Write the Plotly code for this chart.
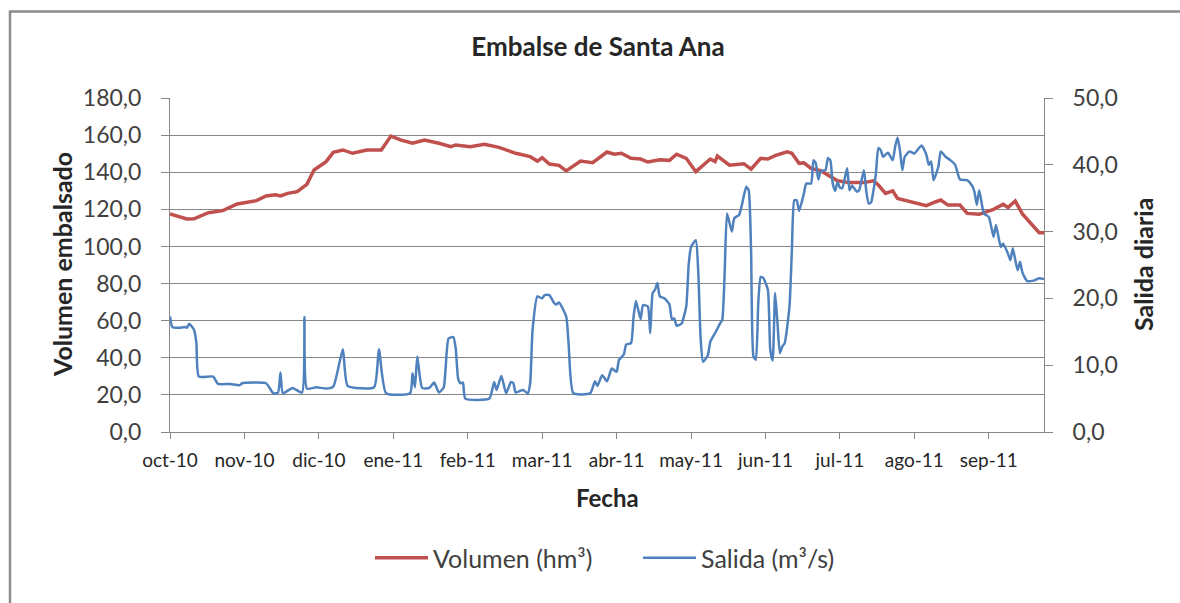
import pandas as pd
import plotly.graph_objects as go

# ---------------- data ----------------
start_date = "2010-10-01"
end_day = 364  # last day shown (2011-09-30)

# Volumen embalsado (hm3), days since start_date
vol_day = [0, 7, 10, 16, 22, 28, 36, 40, 44, 46, 49, 53, 57, 60, 65, 68, 72, 76, 82, 88,
           92, 96, 101, 106, 112, 117, 119, 125, 131, 137, 144, 150, 153, 155, 158, 162, 165,
           171, 176, 182, 185, 188, 192, 196, 199, 204, 208, 211, 215, 219, 225, 227, 228, 233,
           239, 242, 246, 249, 252, 257, 259, 262, 264, 267, 271, 274, 278, 283, 289, 293, 295,
           298, 301, 303, 308, 315, 319, 321, 324, 329, 332, 337, 343, 347, 349, 352, 355, 359,
           362, 364]
vol_hm3 = [117.5, 114.8, 114.9, 118.2, 119.3, 122.9, 124.7, 127.2, 127.8, 127.2, 128.6, 129.5,
           133.5, 141.2, 145.7, 150.7, 152.0, 150.2, 152.0, 152.0, 159.5, 157.4, 155.6, 157.4,
           155.6, 153.8, 154.7, 153.8, 155.0, 153.4, 150.2, 148.4, 146.0, 147.8, 144.4, 143.7,
           140.7, 146.0, 145.1, 150.9, 149.7, 150.2, 147.5, 147.1, 145.5, 146.7, 146.4, 149.7,
           147.5, 140.3, 147.1, 145.7, 148.7, 143.8, 144.6, 141.7, 147.5, 147.1, 148.9, 151.0,
           150.2, 144.8, 145.1, 142.1, 140.8, 138.5, 135.4, 134.4, 134.4, 135.4, 133.1, 128.6,
           130.0, 125.9, 124.1, 122.0, 124.1, 125.0, 122.3, 122.3, 117.8, 117.3, 120.0, 122.7,
           121.0, 124.5, 117.5, 111.5, 107.4, 107.4]

# Salida diaria (m3/s), days since start_date
sal_day = [0, 1, 4, 6, 7, 8, 10, 11, 12, 18, 20, 25, 29, 30, 40, 43, 45, 46, 47, 51, 55, 56, 57,
           61, 65, 68, 72, 74, 85, 87, 90, 100, 101, 102, 103, 105, 108, 110, 112, 114, 116, 118,
           119, 120, 121, 122, 123, 133, 135, 136, 138, 140, 142, 143, 144, 147, 149, 150, 151,
           153, 155, 156, 158, 160, 161, 162, 165, 166, 168, 175, 177, 178, 180, 182, 184, 186,
           187, 189, 190, 192, 193, 194, 195, 196, 197, 199, 200, 201, 202, 203, 204, 206, 208,
           209, 210, 211, 213, 215, 216, 217, 219, 220, 221, 222, 224, 225, 226, 227, 229, 230,
           231, 232, 234, 235, 237, 238, 240, 241, 242, 243, 244, 245, 246, 247, 249, 250, 251,
           252, 253, 254, 255, 256, 258, 259, 260, 261, 262, 264, 265, 267, 268, 269, 270, 271,
           273, 274, 275, 276, 277, 278, 279, 280, 282, 283, 284, 286, 287, 289, 290, 291, 292,
           293, 294, 295, 296, 297, 299, 301, 302, 303, 304, 305, 306, 308, 310, 313, 315, 316,
           317, 318, 320, 321, 323, 325, 327, 329, 332, 334, 335, 336, 337, 339, 341, 343, 344,
           346, 347, 349, 350, 351, 353, 354, 355, 357, 360, 362, 364]
sal_m3s = [17.3, 15.7, 15.6, 15.7, 15.6, 16.2, 15.3, 13.3, 8.3, 8.3, 7.2, 7.2, 7.0, 7.3, 7.3,
           5.8, 5.9, 8.9, 5.8, 6.6, 5.9, 17.2, 6.5, 6.7, 6.5, 6.8, 12.4, 6.9, 6.7, 12.4, 5.8,
           5.8, 8.8, 6.7, 11.3, 6.6, 6.6, 7.4, 5.9, 6.7, 14.0, 14.2, 12.5, 8.0, 7.3, 7.4, 5.0,
           5.0, 7.5, 6.3, 8.4, 5.8, 7.5, 7.3, 5.9, 6.3, 5.8, 7.3, 15.3, 20.3, 20.0, 20.5, 20.5,
           19.3, 19.1, 19.4, 17.3, 13.3, 5.8, 5.8, 7.6, 6.9, 8.5, 7.6, 9.5, 9.0, 10.8, 11.6,
           13.1, 13.3, 17.0, 19.6, 18.3, 16.9, 19.0, 18.8, 14.8, 20.8, 21.3, 22.3, 20.3, 20.0,
           19.1, 16.9, 17.0, 15.9, 16.2, 18.8, 25.0, 27.7, 28.7, 24.0, 14.0, 10.5, 11.5, 13.5,
           14.2, 14.8, 16.2, 16.8, 23.8, 32.7, 30.0, 32.0, 32.5, 33.7, 36.7, 36.2, 27.2, 11.3,
           10.8, 19.3, 23.2, 23.1, 21.3, 12.3, 10.7, 20.8, 16.3, 11.8, 12.8, 13.3, 18.8, 27.2,
           34.7, 34.7, 33.1, 35.7, 37.2, 37.2, 40.7, 40.2, 37.8, 39.0, 39.2, 41.0, 40.7, 37.2,
           36.1, 37.4, 36.6, 36.5, 39.5, 36.2, 36.9, 36.0, 36.2, 39.2, 36.0, 34.2, 34.4, 36.2,
           38.7, 42.5, 42.2, 41.2, 41.8, 40.7, 42.7, 44.1, 42.2, 39.2, 41.2, 42.0, 41.7, 42.9,
           41.5, 40.0, 40.5, 37.7, 39.7, 42.0, 41.2, 40.7, 40.0, 37.8, 37.7, 36.9, 36.0, 34.0,
           36.2, 32.7, 32.2, 29.2, 31.0, 27.7, 28.2, 26.7, 25.7, 27.5, 24.2, 25.5, 23.9, 22.6,
           22.7, 23.0, 22.9]

tick_step_days = 31
tick_labels = ["oct-10", "nov-10", "dic-10", "ene-11", "feb-11", "mar-11",
               "abr-11", "may-11", "jun-11", "jul-11", "ago-11", "sep-11"]

series_names = ["Volumen (hm³)", "Salida (m³/s)"]

# ---------------- build ----------------
base = pd.Timestamp(start_date)
vol_dates = base + pd.to_timedelta(vol_day, unit="D")
sal_dates = base + pd.to_timedelta(sal_day, unit="D")
tick_dates = [base + pd.Timedelta(days=tick_step_days * i) for i in range(len(tick_labels))]
end_date = base + pd.Timedelta(days=end_day)

FONT = "Lato"
GRID = "#868686"
TXT = "#262626"
TICK = "#404040"

fig = go.Figure()
fig.add_trace(go.Scatter(x=vol_dates, y=vol_hm3, name=series_names[0], mode="lines",
                         line=dict(color="#C0504D", width=3.5)))
fig.add_trace(go.Scatter(x=sal_dates, y=sal_m3s, name=series_names[1], mode="lines",
                         line=dict(color="#4F81BD", width=2.5, shape="spline", smoothing=0.5),
                         yaxis="y2"))

W, H = 1180, 603
L, R, T, B = 170, 136, 98, 171
pw, ph = W - L - R, H - T - B

def px_x(p):
    return (p - L) / pw

def px_y(p):
    return (H - B - p) / ph

fig.update_layout(
    width=W, height=H,
    margin=dict(l=L, r=R, t=T, b=B, pad=0),
    paper_bgcolor="white", plot_bgcolor="white",
    separators=",.",
    font=dict(family=FONT, color=TXT, size=20),
    title=dict(text="<b>Embalse de Santa Ana</b>", x=598 / W, xref="container", xanchor="center",
               y=1 - 47 / H, yref="container", yanchor="middle",
               font=dict(family=FONT, size=26, color=TXT)),
    xaxis=dict(type="date", range=[base, end_date], tickvals=tick_dates, ticktext=tick_labels,
               showgrid=False, showline=True, linecolor=GRID, linewidth=1,
               ticks="outside", ticklen=6, tickcolor=GRID, ticklabelstandoff=5,
               tickfont=dict(size=19, color=TXT), zeroline=False),
    yaxis=dict(range=[0, 180], dtick=20, tickformat=".1f", showgrid=True, gridcolor=GRID,
               gridwidth=1, showline=True, linecolor=GRID, linewidth=1, ticks="outside",
               ticklen=8, tickcolor=GRID, ticklabelstandoff=15, zeroline=False,
               tickfont=dict(size=23, color=TICK)),
    yaxis2=dict(range=[0, 50], dtick=10, tickformat=".1f", overlaying="y", side="right",
                showgrid=False, showline=True, linecolor=GRID, linewidth=1, ticks="outside",
                ticklen=8, tickcolor=GRID, ticklabelstandoff=15, zeroline=False,
                tickfont=dict(size=23, color=TICK)),
    legend=dict(orientation="h", x=px_x(370), xanchor="left", y=px_y(558), yanchor="middle",
                font=dict(size=25, color=TICK), bgcolor="rgba(0,0,0,0)",
                itemwidth=53, entrywidth=200, traceorder="normal"),
    showlegend=True,
)

fig.add_annotation(text="<b>Volumen embalsado</b>", x=px_x(62), y=0.5, xref="paper", yref="paper",
                   textangle=-90, showarrow=False, font=dict(size=25, color=TXT),
                   xanchor="center", yanchor="middle")
fig.add_annotation(text="<b>Salida diaria</b>", x=px_x(1143), y=0.5, xref="paper", yref="paper",
                   textangle=-90, showarrow=False, font=dict(size=25, color=TXT),
                   xanchor="center", yanchor="middle")
fig.add_annotation(text="<b>Fecha</b>", x=px_x(607), y=px_y(497), xref="paper", yref="paper",
                   showarrow=False, font=dict(size=24, color=TXT),
                   xanchor="center", yanchor="middle")

# outer chart frame
fig.add_shape(type="rect", xref="paper", yref="paper",
              x0=px_x(10), x1=px_x(1200), y0=px_y(620), y1=px_y(11.5),
              line=dict(color="#8c8c8c", width=2.5), fillcolor="rgba(0,0,0,0)", layer="below")

fig.write_html("out.html", config={"displayModeBar": False},
               post_script="document.body.style.margin='0';document.body.style.padding='0';")
